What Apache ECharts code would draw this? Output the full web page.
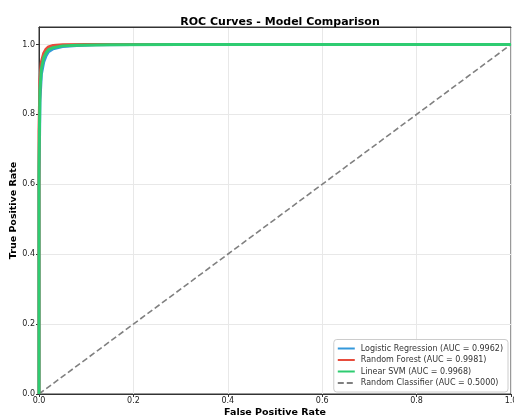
<!DOCTYPE html>
<html>
<head>
<meta charset="utf-8">
<script src="https://cdn.jsdelivr.net/npm/echarts@6/dist/echarts.min.js"></script>
<style>
  html, body { margin: 0; padding: 0; background: #fff; }
  #chart { width: 514px; height: 416px; }
</style>
</head>
<body>
<div id="chart"></div>
<script>
// ROC points (fpr, tpr)
const lrFpr = [0, 0, 0.002, 0.005, 0.01, 0.015, 0.02, 0.03, 0.05, 0.08, 0.12, 0.2, 0.4, 1.0];
const lrTpr = [0, 0.6, 0.84, 0.915, 0.95, 0.968, 0.979, 0.988, 0.994, 0.997, 0.999, 1.0, 1.0, 1.0];
const rfFpr = [0, 0, 0.002, 0.005, 0.01, 0.015, 0.02, 0.03, 0.05, 0.1, 0.2, 1.0];
const rfTpr = [0, 0.75, 0.9, 0.95, 0.975, 0.987, 0.993, 0.997, 0.999, 1.0, 1.0, 1.0];
const svmFpr = [0, 0, 0.002, 0.005, 0.01, 0.015, 0.02, 0.03, 0.05, 0.08, 0.15, 0.3, 1.0];
const svmTpr = [0, 0.65, 0.87, 0.93, 0.962, 0.976, 0.985, 0.991, 0.996, 0.998, 0.999, 1.0, 1.0];
const diagFpr = [0, 1];
const diagTpr = [0, 1];

const seriesNames = [
  "Logistic Regression (AUC = 0.9962)",
  "Random Forest (AUC = 0.9981)",
  "Linear SVM (AUC = 0.9968)",
  "Random Classifier (AUC = 0.5000)",
];
const tickValues = [0, 0.2, 0.4, 0.6, 0.8, 1.0];

const FONT = "DejaVu Sans";

function pairs(xs, ys) {
  return xs.map((x, i) => [x, ys[i]]);
}

function curve(name, xs, ys, color) {
  return {
    name,
    type: "line",
    data: pairs(xs, ys),
    showSymbol: false,
    symbol: "none",
    smooth: false,
    lineStyle: { width: 3, color },
    itemStyle: { color },
    z: 3,
  };
}

const chart = echarts.init(document.getElementById("chart"), null, { renderer: "canvas" });

chart.setOption({
  animation: false,
  backgroundColor: "#fff",
  title: {
    text: "ROC Curves - Model Comparison",
    left: 275,
    textAlign: "center",
    top: 12,
    textStyle: { fontFamily: FONT, fontSize: 11, fontWeight: "bold", color: "#000" },
  },
  grid: {
    left: 39,
    right: 3,
    top: 27,
    bottom: 22,
    outerBoundsMode: "none",
    containLabel: false,
    show: true,
    borderColor: "#333",
    borderWidth: 1,
  },
  legend: {
    orient: "vertical",
    right: 6,
    bottom: 24,
    data: seriesNames,
    itemWidth: 17,
    itemHeight: 8,
    itemGap: 3.5,
    padding: [5, 5, 5, 3],
    backgroundColor: "rgba(255,255,255,0.8)",
    borderColor: "#ccc",
    borderWidth: 1,
    borderRadius: 3,
    itemStyle: { opacity: 0, borderWidth: 0 },
    textStyle: { fontFamily: FONT, fontSize: 8, color: "#333", padding: [0, 0, 0, 1] },
  },
  xAxis: [
    {
      type: "value",
      min: 0,
      max: 1,
      interval: 0.2,
      name: "False Positive Rate",
      nameLocation: "middle",
      nameGap: 14,
      nameMoveOverlap: false,
      nameTextStyle: { fontFamily: FONT, fontSize: 9.5, fontWeight: "bold", color: "#000" },
      axisLine: { show: true, onZero: false, lineStyle: { color: "#333" } },
      axisTick: { show: true, length: 3, lineStyle: { color: "#333" } },
      axisLabel: {
        fontFamily: FONT,
        fontSize: 8,
        color: "#222",
        margin: 3,
        formatter: (v) => v.toFixed(1),
      },
      splitLine: { show: true, lineStyle: { color: "#e8e8e8", width: 1 } },
    },
    {
      // top spine only
      type: "value",
      position: "top",
      min: 0,
      max: 1,
      interval: 0.2,
      axisLine: { show: true, onZero: false, lineStyle: { color: "#333" } },
      axisTick: { show: false },
      axisLabel: { show: false },
      splitLine: { show: false },
    },
  ],
  yAxis: {
    type: "value",
    min: 0,
    max: 1.05,
    interval: 0.2,
    name: "True Positive Rate",
    nameLocation: "middle",
    nameGap: 20,
    nameMoveOverlap: false,
    nameTextStyle: { fontFamily: FONT, fontSize: 9.5, fontWeight: "bold", color: "#000" },
    axisLine: { show: true, onZero: false, lineStyle: { color: "#333" } },
    axisTick: { show: true, length: 3, customValues: tickValues, lineStyle: { color: "#333" } },
    axisLabel: {
      fontFamily: FONT,
      fontSize: 8,
      color: "#222",
      margin: 4,
      customValues: tickValues,
      formatter: (v) => v.toFixed(1),
    },
    splitLine: { show: true, lineStyle: { color: "#e8e8e8", width: 1 } },
  },
  series: [
    curve(seriesNames[0], lrFpr, lrTpr, "#3498db"),
    curve(seriesNames[1], rfFpr, rfTpr, "#e74c3c"),
    curve(seriesNames[2], svmFpr, svmTpr, "#2ecc71"),
    {
      name: seriesNames[3],
      type: "line",
      data: pairs(diagFpr, diagTpr),
      showSymbol: false,
      symbol: "none",
      lineStyle: { width: 1.6, color: "#808080", type: [6, 3] },
      itemStyle: { color: "#808080" },
      z: 2,
    },
  ],
});
</script>
</body>
</html>
